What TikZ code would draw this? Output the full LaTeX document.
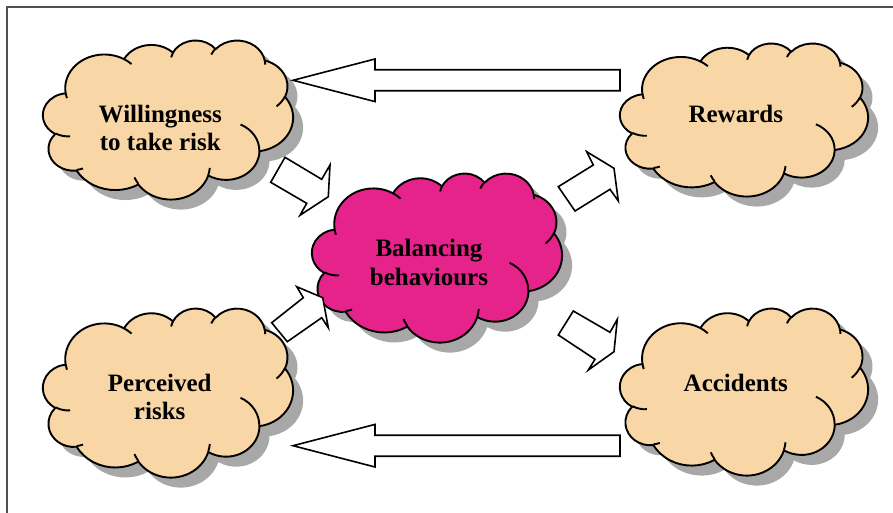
\documentclass[tikz,border=0pt]{standalone}
\usepackage{fontspec}
\setmainfont{Liberation Serif}

\definecolor{cloudpeach}{HTML}{F8D6A5}
\definecolor{cloudmagenta}{HTML}{E6238A}
\definecolor{cloudgrey}{HTML}{A8A8A8}
\definecolor{framegrey}{HTML}{505050}

% Cloud outline built from elliptical bumps (sizes in a 43.2 x 43.2 box,
% angles measured to the ray from each bump's centre).
\newcommand\cloudouter{}
\newcommand\cloudinner{}
\newcommand\cloudarcto[4]{%
  \pgfmathsetmacro\cloudta{atan2((#1)*sin(#3),(#2)*cos(#3))}%
  \pgfmathsetmacro\cloudtb{atan2((#1)*sin(#3+#4),(#2)*cos(#3+#4))}%
  \pgfmathsetmacro\cloudtb{\cloudta+mod(\cloudtb-\cloudta+720,360)}%
  \xdef\cloudouter{\unexpanded\expandafter{\cloudouter} arc[start angle=\cloudta,end angle=\cloudtb,x radius=#1,y radius=#2]}%
}
\newcommand\cloudcrease[6]{%
  \pgfmathsetmacro\cloudta{atan2((#3)*sin(#5),(#4)*cos(#5))}%
  \pgfmathsetmacro\cloudtb{atan2((#3)*sin(#5+#6),(#4)*cos(#5+#6))}%
  \pgfmathsetmacro\cloudtb{\cloudta+mod(\cloudtb-\cloudta+720,360)}%
  \xdef\cloudinner{\unexpanded\expandafter{\cloudinner} (#1,#2) arc[start angle=\cloudta,end angle=\cloudtb,x radius=#3,y radius=#4]}%
}
\cloudarcto{6.753}{9.190}{-190.4875}{123.7805}
\cloudarcto{5.333}{7.267}{-144.1024}{89.9452}
\cloudarcto{4.365}{5.945}{-145.8079}{99.7230}
\cloudarcto{4.857}{6.595}{-130.9861}{117.2417}
\cloudarcto{5.333}{7.273}{-78.7089}{109.0269}
\cloudarcto{6.775}{9.220}{-46.2673}{130.2690}
\cloudarcto{5.785}{7.867}{0.6250}{114.0333}
\cloudarcto{6.752}{9.215}{22.4516}{115.1726}
\cloudarcto{7.720}{10.543}{66.2426}{75.7110}
\cloudarcto{4.360}{5.918}{-274.9421}{146.7356}
\cloudarcto{4.345}{5.945}{-246.8285}{152.5189}
\cloudcrease{4.693}{26.177}{4.345}{5.945}{86.7420}{26.4295}
\cloudcrease{6.928}{34.899}{4.360}{5.918}{73.6105}{11.4475}
\cloudcrease{16.478}{39.090}{6.752}{9.215}{137.6242}{14.0811}
\cloudcrease{28.827}{34.751}{6.752}{9.215}{6.4533}{15.9984}
\cloudcrease{34.129}{22.954}{5.785}{7.867}{-70.2924}{70.9174}
\cloudcrease{41.798}{15.354}{5.333}{7.273}{30.3180}{27.7515}
\cloudcrease{38.324}{5.426}{4.857}{6.595}{-13.7443}{14.8589}
\cloudcrease{29.078}{3.952}{4.857}{6.595}{-149.1815}{18.1954}
\cloudcrease{22.141}{4.720}{4.365}{5.945}{-163.4943}{17.6864}
\cloudcrease{14.000}{5.192}{6.753}{9.190}{-66.7070}{12.3194}
\cloudcrease{4.127}{15.789}{6.753}{9.190}{157.6544}{11.8582}

% #1,#2 top-left corner, #3 width, #4 height, #5 fill colour
\newcommand\drawcloud[5]{%
  \begin{scope}[shift={(#1+10,#2+10)},xscale=#3/43.2,yscale=#4/43.2]
    \fill[cloudgrey] (3.9,14.37) \cloudouter -- cycle;
  \end{scope}
  \begin{scope}[shift={(#1,#2)},xscale=#3/43.2,yscale=#4/43.2]
    \filldraw[cloudline,fill=#5] (3.9,14.37) \cloudouter -- cycle;
    \draw[cloudline] \cloudinner;
  \end{scope}
}

\begin{document}
\begin{tikzpicture}[x=1pt,y=-1pt,
  cloudline/.style={line width=1.9pt,line join=round,draw=black},
  blockarrow/.style={draw=black,fill=white,line width=1.6pt,line join=miter},
  label/.style={font=\bfseries\fontsize{25}{28.5}\selectfont,align=center,inner sep=0pt}]
\useasboundingbox (0,0) rectangle (893,513);
\clip (0,0) rectangle (893,513);
\fill[white] (0,0) rectangle (893,513);
\draw[framegrey,line width=1.4pt] (7,7) rectangle (895,520);

% clouds
\drawcloud{43}{40}{250}{159}{cloudpeach}
\drawcloud{620}{43}{248}{153}{cloudpeach}
\drawcloud{43}{308}{250}{169}{cloudpeach}
\drawcloud{620}{308}{248}{167}{cloudpeach}
\drawcloud{312}{173}{250}{169}{cloudmagenta}

% labels
\node[label] (will) at (160.3,128) {Willingness\\to take risk};
\node[label] (rew) at (735.8,113.5) {Rewards};
\node[label] (perc) at (159.7,397) {Perceived\\risks};
\node[label] (acc) at (735.8,382.8) {Accidents};
\node[label] (bal) at (429,262.5) {Balancing\\behaviours};

% long arrows back to the left-hand clouds
\draw[blockarrow] (620,69.8) -- (375,69.8) -- (375,59) -- (293,80.3)
  -- (375,101.6) -- (375,90.8) -- (620,90.8) -- cycle;
\draw[blockarrow] (620,435.2) -- (375,435.2) -- (375,424.4) -- (293,445.7)
  -- (375,467) -- (375,456.2) -- (620,456.2) -- cycle;

% short arrows through the centre cloud
\draw[blockarrow] (285,157.3) -- (321.7,179.3) -- (330,165) -- (328.3,196.7)
  -- (300,215.3) -- (306.7,203.3) -- (270.7,182.3) -- cycle;
\draw[blockarrow] (271.7,322.7) -- (303.3,297.7) -- (296.7,286.7) -- (322.7,297.7)
  -- (328.3,327.7) -- (321.7,317.7) -- (287.3,341.7) -- cycle;
\draw[blockarrow] (558.3,186.7) -- (593.3,165) -- (586.7,151.7) -- (614,168.3)
  -- (618.3,201) -- (610,189.3) -- (575,211) -- cycle;
\draw[blockarrow] (573.3,311) -- (610,332.3) -- (617.3,319.3) -- (614,351.7)
  -- (588.3,370) -- (595,359.3) -- (558.3,335) -- cycle;
\end{tikzpicture}
\end{document}
